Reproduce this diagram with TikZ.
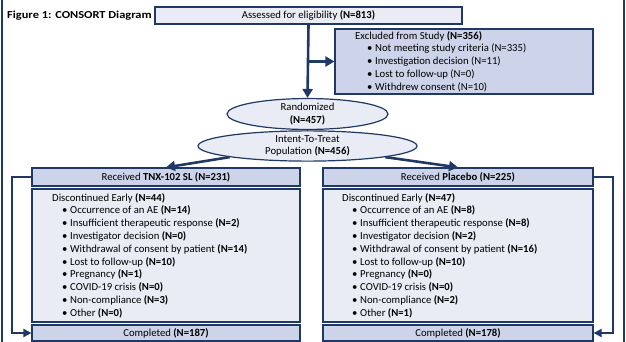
\documentclass[tikz,border=0pt]{standalone}
\usepackage{fontspec}
\setmainfont{Carlito}
\newfontfamily\titlefont{Carlito}[FakeStretch=1.16]
\usetikzlibrary{shapes.geometric,arrows.meta}
\definecolor{navy}{HTML}{1F3864}
\definecolor{lightfill}{HTML}{E9EBF5}
\definecolor{darkfill}{HTML}{CDD4EA}
\begin{document}
\begin{tikzpicture}[x=1pt,y=-1pt,
  every node/.style={font=\fontsize{10.7}{12.8}\selectfont, text=black},
  boxl/.style={draw=navy, line width=1.2pt, fill=lightfill, inner sep=0pt},
  boxd/.style={draw=navy, line width=1.2pt, fill=darkfill, inner sep=0pt},
  ell/.style={ellipse, draw=navy, line width=1.2pt, fill=lightfill, inner sep=0pt, align=center},
  txt/.style={inner sep=0pt, anchor=north west, align=left},
  bigarr/.style={draw=navy, line width=2.6pt, -{Triangle[length=9pt,width=10pt]}},
  sidearr/.style={draw=navy, line width=2pt, -{Triangle[length=8pt,width=8pt]}},
  frame/.style={draw=navy, line width=2pt}
]
\newcommand{\bl}{\makebox[10pt]{}\makebox[8pt][l]{\textbullet}}
\newcommand{\bx}{\makebox[12pt]{}\makebox[8pt][l]{\textbullet}}
\useasboundingbox (0,0) rectangle (626,342);
% outer frame
\coordinate (f1) at (2,0); \coordinate (f2) at (2,342);
\coordinate (f3) at (624,0); \coordinate (f4) at (624,342);
\draw[frame] (f1) -- (f2);
\draw[frame] (f3) -- (f4);
% title
\node[inner sep=0pt, anchor=west, font=\fontsize{10.7}{12}\titlefont\bfseries] (title) at (7,15.5) {Figure 1: CONSORT Diagram};
% boxes
\node[boxl, minimum width=307pt, minimum height=17pt] (assess) at (308.5,15.5) {Assessed for eligibility \textbf{(N=813)}};
\node[boxd, minimum width=258pt, minimum height=65pt] (excl) at (464,61.5) {};
\node[txt] (excltxt) at (355,30) {\strut Excluded from Study \textbf{(N=356)}\\
\bx Not meeting study criteria (N=335)\\
\bx Investigation decision (N=11)\\
\bx Lost to follow-up (N=0)\\
\bx Withdrew consent (N=10)};
\node[ell, minimum width=161pt, minimum height=24pt] (rand) at (307.5,114) {Randomized\\\textbf{(N=457)}};
\node[ell, minimum width=219pt, minimum height=24pt] (itt) at (307.5,146) {Intent-To-Treat\\Population \textbf{(N=456)}};
\node[boxd, minimum width=268pt, minimum height=18pt] (tnx) at (166,177) {Received \textbf{TNX-102 SL (N=231)}};
\node[boxd, minimum width=270pt, minimum height=18pt] (plc) at (458,177) {Received \textbf{Placebo (N=225)}};
\node[boxl, minimum width=268pt, minimum height=133pt] (dl) at (166,255.5) {};
\node[boxl, minimum width=270pt, minimum height=133pt] (dr) at (458,255.5) {};
\node[txt] (dltxt) at (52,192) {\strut Discontinued Early \textbf{(N=44)}\\
\bl Occurrence of an AE \textbf{(N=14)}\\
\bl Insufficient therapeutic response \textbf{(N=2)}\\
\bl Investigator decision \textbf{(N=0)}\\
\bl Withdrawal of consent by patient \textbf{(N=14)}\\
\bl Lost to follow-up \textbf{(N=10)}\\
\bl Pregnancy \textbf{(N=1)}\\
\bl COVID-19 crisis \textbf{(N=0)}\\
\bl Non-compliance \textbf{(N=3)}\\
\bl Other \textbf{(N=0)}};
\node[txt] (drtxt) at (342,192) {\strut Discontinued Early \textbf{(N=47)}\\
\bl Occurrence of an AE \textbf{(N=8)}\\
\bl Insufficient therapeutic response \textbf{(N=8)}\\
\bl Investigator decision \textbf{(N=2)}\\
\bl Withdrawal of consent by patient \textbf{(N=16)}\\
\bl Lost to follow-up \textbf{(N=10)}\\
\bl Pregnancy \textbf{(N=0)}\\
\bl COVID-19 crisis \textbf{(N=0)}\\
\bl Non-compliance \textbf{(N=2)}\\
\bl Other \textbf{(N=1)}};
\node[boxd, minimum width=268pt, minimum height=16pt] (cl) at (166,333) {Completed \textbf{(N=187)}};
\node[boxd, minimum width=270pt, minimum height=16pt] (cr) at (458,333) {Completed \textbf{(N=178)}};
% connectors
\draw[bigarr] (assess.south) -- (rand.north);
\draw[bigarr] (assess.south |- excl.west) -- (excl.west);
\draw[draw=navy, line width=1.2pt] (rand.south) -- (itt.north);
\draw[bigarr] (itt.south west) -- (tnx.north);
\draw[bigarr] (itt.south east) -- (plc.north);
\draw[sidearr] (tnx.west) -- ++(-19,0) |- (cl.west);
\draw[sidearr] (plc.east) -- ++(19,0) |- (cr.east);
\end{tikzpicture}
\end{document}
